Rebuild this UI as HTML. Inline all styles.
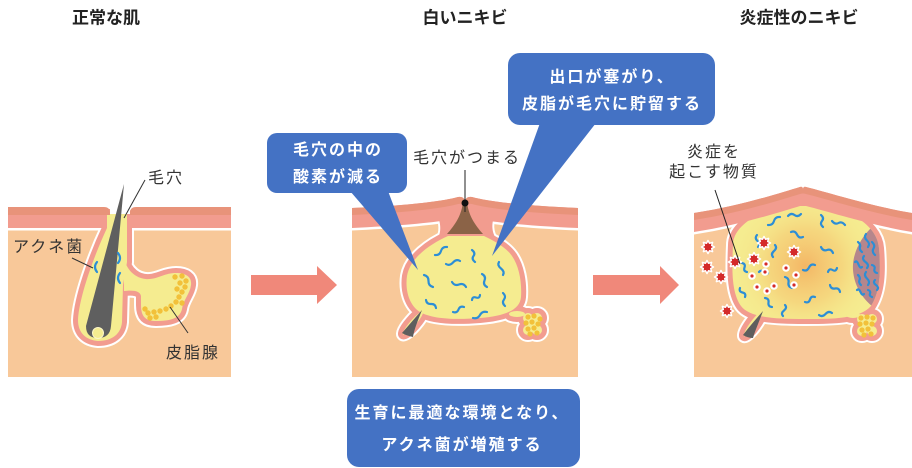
<!DOCTYPE html>
<html><head><meta charset="utf-8">
<style>
html,body{margin:0;padding:0;background:#fff;}
svg{display:block;}
text{font-family:"Liberation Sans","Noto Sans CJK JP",sans-serif;}
</style></head>
<body>
<svg width="912" height="468" viewBox="0 0 912 468" xmlns="http://www.w3.org/2000/svg">
<defs>
 <g id="s1">
  <path d="M 107 214 L 127 214 L 127 262 L 123 285 L 122 322 C 121 334 112 341 98 341 C 86 340 78 333 78 320 C 79 298 93 258 107 228 Z"/>
  <path d="M 124 258 C 127 272 138 280 150 279 C 160 278 165 273 176 273 C 186 273 192 277 191 285 C 190 294 183 300 182 309 C 180 319 169 321 156 321 C 145 321 141 316 141 305 L 141 296 C 140 291 134 290 124 291 Z"/>
 </g>
 <g id="s2">
  <path d="M 448 236 L 484 236 C 492 240 505 246 512 256 C 519 266 522 282 521 297 C 520 310 505 316 480 318 C 455 320 432 319 420 312 C 409 305 405 290 407 276 C 410 258 430 244 448 236 Z"/>
  <ellipse cx="413" cy="323" rx="15" ry="3" transform="rotate(-49 413 323)"/>
  <ellipse cx="517" cy="314" rx="8" ry="3"/>
  <circle cx="528" cy="318" r="5"/>
  <circle cx="537" cy="318" r="5"/>
  <circle cx="528" cy="330" r="5"/>
  <circle cx="537" cy="330" r="5"/>
  <circle cx="532" cy="324" r="6"/>
 </g>
 <path id="b3" d="M 733 245 C 733 222 770 205 805 203 C 842 205 877 222 879 248 C 881 272 880 292 871 306 C 860 319 832 319 805 319 C 776 319 750 318 741 306 C 731 292 732 268 733 245 Z"/>
 <g id="s3">
  <use href="#b3"/>
  <ellipse cx="753" cy="324" rx="15" ry="3" transform="rotate(-54 753 324)"/>
  <ellipse cx="853" cy="315" rx="7" ry="3"/>
  <circle cx="862" cy="319" r="5"/>
  <circle cx="872" cy="319" r="5"/>
  <circle cx="862" cy="331" r="5"/>
  <circle cx="872" cy="331" r="5"/>
  <circle cx="867" cy="325" r="6"/>
 </g>
 <clipPath id="c3"><use href="#b3"/></clipPath>
 <radialGradient id="rg" gradientUnits="userSpaceOnUse" cx="805" cy="266" r="75">
  <stop offset="0" stop-color="#F4B060" stop-opacity="0.9"/>
  <stop offset="0.5" stop-color="#F5C670" stop-opacity="0.55"/>
  <stop offset="1" stop-color="#F5EC90" stop-opacity="0"/>
 </radialGradient>
 <polygon id="star" fill="#D42A2A" stroke="#fff" stroke-width="1.5" stroke-linejoin="round" points="6.5,0 3.7,1.53 4.6,4.6 1.53,3.7 0,6.5 -1.53,3.7 -4.6,4.6 -3.7,1.53 -6.5,0 -3.7,-1.53 -4.6,-4.6 -1.53,-3.7 0,-6.5 1.53,-3.7 4.6,-4.6 3.7,-1.53"/>
</defs>

<!-- Titles -->
<text x="106" y="23.5" font-size="17" font-weight="bold" fill="#222" text-anchor="middle">正常な肌</text>
<text x="465" y="23.5" font-size="17" font-weight="bold" fill="#222" text-anchor="middle">白いニキビ</text>
<text x="799" y="23.5" font-size="17" font-weight="bold" fill="#222" text-anchor="middle">炎症性のニキビ</text>

<!-- ============ PANEL 1 ============ -->
<rect x="8" y="214" width="223" height="163" fill="#F8C899"/>
<use href="#s1" fill="none" stroke="#fff" stroke-width="14" stroke-linejoin="round"/>
<rect x="8" y="214" width="223" height="16.5" fill="#fff"/>
<rect x="8" y="214" width="223" height="14" fill="#F29C8F"/>
<use href="#s1" fill="none" stroke="#F29C8F" stroke-width="10" stroke-linejoin="round"/>
<use href="#s1" fill="#F5EC90"/>
<rect x="110" y="195" width="20" height="19" fill="#fff"/>
<path d="M 8 207 L 104 207 Q 110 207 110 213 L 110 215 L 8 215 Z" fill="#E8937A"/>
<path d="M 130 215 L 130 213 Q 130 207 136 207 L 231 207 L 231 215 Z" fill="#E8937A"/>
<!-- hair -->
<path d="M 124 184 L 111 326 Q 110 338 98 338 Q 86 338 86 326 Z" fill="#5F5F5F"/>
<circle cx="98" cy="333" r="5.5" fill="#F5EC90" stroke="#FBF6C8" stroke-width="1"/>
<!-- bacteria -->
<g fill="none" stroke="#2C8ED6" stroke-width="2.2" stroke-linecap="round">
 <path d="M 97 262 q -4 5 0 10"/>
 <path d="M 118 253 q 4 5 0 10"/>
 <path d="M 120 273 q -4 5 0 10"/>
</g>
<!-- gland dots -->
<g fill="#F2C13A">
 <circle cx="175" cy="277" r="2.7"/><circle cx="182" cy="276" r="2.7"/><circle cx="186" cy="281" r="2.7"/>
 <circle cx="180" cy="283" r="2.7"/><circle cx="185" cy="287" r="2.7"/><circle cx="177" cy="289" r="2.7"/>
 <circle cx="182" cy="292" r="2.7"/><circle cx="179" cy="297" r="2.7"/><circle cx="176" cy="302" r="2.7"/>
 <circle cx="182" cy="303" r="2.7"/><circle cx="171" cy="306" r="2.7"/><circle cx="166" cy="309" r="2.7"/>
 <circle cx="160" cy="311" r="2.7"/><circle cx="154" cy="312" r="2.7"/><circle cx="148" cy="313" r="2.7"/>
 <circle cx="156" cy="317" r="2.7"/><circle cx="150" cy="318" r="2.7"/><circle cx="145" cy="309" r="2.7"/>
</g>
<!-- leader lines -->
<g stroke="#333" stroke-width="1" fill="none">
 <line x1="145" y1="180" x2="124" y2="218"/>
 <line x1="72" y1="258" x2="93" y2="268"/>
 <line x1="170" y1="307" x2="188" y2="333"/>
</g>
<text x="148" y="183" font-size="16" letter-spacing="2" fill="#333">毛穴</text>
<text x="13" y="252" font-size="16" letter-spacing="2" fill="#333">アクネ菌</text>
<text x="166" y="358" font-size="16" letter-spacing="2" fill="#333">皮脂腺</text>

<!-- Arrow 1 -->
<polygon points="251,275 317,275 317,266 337,285 317,304 317,295 251,295" fill="#F0887A"/>

<!-- ============ PANEL 2 ============ -->
<rect x="352" y="215" width="226" height="162" fill="#F8C899"/>
<use href="#s2" fill="none" stroke="#fff" stroke-width="14" stroke-linejoin="round"/>
<path d="M 436 212 L 496 212 C 491 222 491 232 497 240 L 437 240 C 442 232 441 222 436 212 Z" fill="none" stroke="#fff" stroke-width="4"/>
<path d="M 352 208 C 400 206 440 202 458 197 Q 465 196 465 203 Q 465 196 472 197 C 490 202 530 206 578 208 L 578 230.5 C 530 228.5 490 224.5 470 220.5 L 460 220.5 C 440 224.5 400 228.5 352 230.5 Z" fill="#fff"/>
<use href="#s2" fill="none" stroke="#F29C8F" stroke-width="10" stroke-linejoin="round"/>
<path d="M 436 212 L 496 212 C 491 222 491 232 497 240 L 437 240 C 442 232 441 222 436 212 Z" fill="#F29C8F"/>
<use href="#s2" fill="#F5EC90"/>
<path d="M 352 208 C 400 206 440 202 458 197 Q 465 196 465 203 Q 465 196 472 197 C 490 202 530 206 578 208 L 578 228 C 530 226 490 222 470 218 L 460 218 C 440 222 400 226 352 228 Z" fill="#F29C8F"/>
<path d="M 352 208 C 400 206 440 202 458 197 Q 465 196 465 203 Q 465 196 472 197 C 490 202 530 206 578 208 L 578 215 C 530 213 490 209 472 204 Q 465 203 458 204 C 440 209 400 213 352 215 Z" fill="#E8937A"/>
<!-- plug -->
<path d="M 463 201 L 467 201 C 468 215 475 225 483 234 L 447 234 C 455 225 462 215 463 201 Z" fill="#8B6347"/>
<line x1="465" y1="170" x2="465" y2="212" stroke="#222" stroke-width="1"/>
<circle cx="465" cy="203" r="3.5" fill="#111"/>
<!-- squiggles -->
<g fill="none" stroke="#2C8ED6" stroke-width="2.2" stroke-linecap="round">
 <path d="M 435 255 q 4.7 0.5 6 -4 t 6 -4"/>
 <path d="M 446 264 q 3.5 2.25 7 -1.5 t 7 -1.5"/>
 <path d="M 472 250 q 3.75 3 1.5 6 t 1.5 6"/>
 <path d="M 499 262 q -2 3.25 2 6.5 t 2 6.5"/>
 <path d="M 424 275 q 4.65 1.2 4.5 6 t 4.5 6"/>
 <path d="M 452 282 q 2.5 4.25 7 2.5 t 7 2.5"/>
 <path d="M 482 274 q 4.25 2.25 2.5 6.5 t 2.5 6.5"/>
 <path d="M 426 300 q 0.6 4.3 5 4 t 5 4"/>
 <path d="M 453 312 q 3.95 1.45 5.5 -2.5 t 5.5 -2.5"/>
 <path d="M 472 300 q 0.4 -3.75 4 -2.5 t 4 -2.5"/>
 <path d="M 503 293 q 3.5 3.25 1 6.5 t 1 6.5"/>
 <path d="M 473 318 q 4.7 1.3 7 -3 t 7 -3"/>
</g>
<path d="M 422 310 C 418 320 414 330 413 337 C 409 336 405 335 402 333 C 408 326 415 318 422 310 Z" fill="#5E5E5E"/>
<g fill="#F2C13A">
 <circle cx="528" cy="317" r="2.6"/><circle cx="534" cy="316" r="2.6"/><circle cx="540" cy="319" r="2.6"/>
 <circle cx="526" cy="323" r="2.6"/><circle cx="532" cy="322" r="2.6"/><circle cx="538" cy="324" r="2.6"/>
 <circle cx="528" cy="329" r="2.6"/><circle cx="534" cy="328" r="2.6"/><circle cx="530" cy="334" r="2.6"/><circle cx="537" cy="333" r="2.6"/>
</g>
<text x="467" y="163" font-size="16" letter-spacing="2" fill="#333" text-anchor="middle">毛穴がつまる</text>

<!-- Arrow 2 -->
<polygon points="593,275 660,275 660,266 679,285 660,304 660,295 593,295" fill="#F0887A"/>

<!-- ============ PANEL 3 ============ -->
<rect x="694" y="215" width="218" height="162" fill="#F8C899"/>
<use href="#s3" fill="none" stroke="#fff" stroke-width="14" stroke-linejoin="round"/>
<path d="M 694 213 C 740 206 780 193 800 187 Q 803 186 803 190 Q 803 186 806 187 C 830 193 870 206 912 213 L 912 234.5 C 870 227.5 830 214.5 806 208.5 L 800 208.5 C 780 214.5 740 227.5 694 234.5 Z" fill="#fff"/>
<use href="#s3" fill="none" stroke="#F29C8F" stroke-width="10" stroke-linejoin="round"/>
<use href="#s3" fill="#F5EC90"/>
<use href="#b3" fill="url(#rg)"/>
<g clip-path="url(#c3)">
 <path d="M 873 226 C 858 240 852 257 853 270 C 854 285 862 298 872 306 C 886 298 888 280 887 265 C 886 250 882 236 873 226 Z" fill="#B5868C"/>
</g>
<path d="M 694 213 C 740 206 780 193 800 187 Q 803 186 803 190 Q 803 186 806 187 C 830 193 870 206 912 213 L 912 232 C 870 225 830 212 806 206 L 800 206 C 780 212 740 225 694 232 Z" fill="#F29C8F"/>
<path d="M 694 213 C 740 206 780 193 800 187 Q 803 186 803 190 Q 803 186 806 187 C 830 193 870 206 912 213 L 912 220 C 870 213 830 200 806 194 Q 803 193 800 194 C 780 200 740 213 694 220 Z" fill="#E8937A"/>
<!-- squiggles -->
<g fill="none" stroke="#2C8ED6" stroke-width="2.2" stroke-linecap="round">
 <path d="M 768 225 q 4.7 0.5 6 -4 t 6 -4"/>
 <path d="M 788 216 q 3.25 -3.5 6.5 -1 t 6.5 -1"/>
 <path d="M 821 215 q 3.5 3 1 6 t 1 6"/>
 <path d="M 832 221 q 3.25 4 6.5 2 t 6.5 2"/>
 <path d="M 757 235 q -2.75 3 0.5 6 t 0.5 6"/>
 <path d="M 791 232 q 4 -1.75 6 2.5 t 6 2.5"/>
 <path d="M 821 247 q 2 4.5 6 3 t 6 3"/>
 <path d="M 775 245 q 2.5 3 -1 6 t -1 6"/>
 <path d="M 759 272 q 2.25 -2.75 4.5 0.5 t 4.5 0.5"/>
 <path d="M 803 270 q 4 1.75 6 -2.5 t 6 -2.5"/>
 <path d="M 828 272 q 1.25 -4 4.5 -2 t 4.5 -2"/>
 <path d="M 785 277 q 4.25 1.25 3.5 5.5 t 3.5 5.5"/>
 <path d="M 740 288 q -1.35 3.65 2.5 4.5 t 2.5 4.5"/>
 <path d="M 765 298 q 4.15 0.45 3.5 4.5 t 3.5 4.5"/>
 <path d="M 785 305 q 2.5 2.75 -1 5.5 t -1 5.5"/>
 <path d="M 805 302 q 3.8 1.45 5 -2.5 t 5 -2.5"/>
 <path d="M 830 285 q 0.8 4.25 5 3.5 t 5 3.5"/>
 <path d="M 819 315 q 3.25 2.5 6.5 -1 t 6.5 -1"/>
 <path d="M 742 263 q 3.85 0.85 2.5 4.5 t 2.5 4.5"/>
 <path d="M 858 242 q 3 2.5 2 5 t 2 5"/>
 <path d="M 866 234 q -2.5 3.25 1 6.5 t 1 6.5"/>
 <path d="M 872 242 q 3.5 3.25 1.5 6.5 t 1.5 6.5"/>
 <path d="M 855 262 q 1.75 -2 3.5 2.5 t 3.5 2.5"/>
 <path d="M 864 256 q -2.5 3 1.5 6 t 1.5 6"/>
 <path d="M 872 265 q 3.5 1 2.5 4 t 2.5 4"/>
 <path d="M 858 275 q 2.75 2.5 1.5 5 t 1.5 5"/>
 <path d="M 866 272 q -2.5 3.25 1 6.5 t 1 6.5"/>
 <path d="M 857 290 q 1.75 -2 3.5 2 t 3.5 2"/>
 <path d="M 868 290 q 3 1 2 3.5 t 2 3.5"/>
 <path d="M 875 280 q -2.5 2.5 1 5 t 1 5"/>
</g>
<!-- stars -->
<use href="#star" transform="translate(708,247)"/>
<use href="#star" transform="translate(707,267)"/>
<use href="#star" transform="translate(721,277)"/>
<use href="#star" transform="translate(727,311)"/>
<use href="#star" transform="translate(735,262)"/>
<use href="#star" transform="translate(764,243)"/>
<use href="#star" transform="translate(754,259)"/>
<use href="#star" transform="translate(794,252)"/>
<!-- small dots -->
<g>
 <g fill="#fff"><circle cx="766" cy="264" r="3.8"/><circle cx="765" cy="272" r="3.8"/><circle cx="752" cy="276" r="3.8"/><circle cx="786" cy="268" r="3.8"/><circle cx="796" cy="275" r="3.8"/><circle cx="794" cy="285" r="3.8"/><circle cx="774" cy="286" r="3.8"/><circle cx="767" cy="291" r="3.8"/><circle cx="757" cy="287" r="3.8"/></g>
 <g fill="#D42A2A"><circle cx="766" cy="264" r="1.6"/><circle cx="765" cy="272" r="1.6"/><circle cx="752" cy="276" r="1.6"/><circle cx="786" cy="268" r="1.6"/><circle cx="796" cy="275" r="1.6"/><circle cx="794" cy="285" r="1.6"/><circle cx="774" cy="286" r="1.6"/><circle cx="767" cy="291" r="1.6"/><circle cx="757" cy="287" r="1.6"/></g>
</g>
<path d="M 763 311 C 759 322 755 331 753 338 C 750 338 746 337 743 335 C 749 327 756 319 763 311 Z" fill="#5E5E5E"/>
<g fill="#F2C13A">
 <circle cx="861" cy="318" r="2.6"/><circle cx="867" cy="317" r="2.6"/><circle cx="873" cy="318" r="2.6"/>
 <circle cx="860" cy="324" r="2.6"/><circle cx="866" cy="323" r="2.6"/><circle cx="872" cy="324" r="2.6"/>
 <circle cx="862" cy="330" r="2.6"/><circle cx="868" cy="329" r="2.6"/><circle cx="864" cy="335" r="2.6"/><circle cx="871" cy="334" r="2.6"/>
</g>
<line x1="715" y1="190" x2="740" y2="264" stroke="#222" stroke-width="1"/>
<text x="714" y="157" font-size="16" letter-spacing="2" fill="#333" text-anchor="middle">炎症を</text>
<text x="714" y="177" font-size="16" letter-spacing="2" fill="#333" text-anchor="middle">起こす物質</text>

<!-- ============ CALLOUTS ============ -->
<g fill="#4472C4">
 <rect x="267" y="133" width="140" height="60" rx="10"/>
 <polygon points="350,191 388,191 418,270"/>
 <rect x="508" y="53" width="207" height="72" rx="12"/>
 <polygon points="540,123 596,123 492,256"/>
 <rect x="347" y="389" width="233" height="78" rx="12"/>
</g>
<g fill="#fff" font-size="16" font-weight="bold" letter-spacing="2" text-anchor="middle">
 <text x="338" y="155">毛穴の中の</text>
 <text x="338" y="182">酸素が減る</text>
 <text x="612" y="82">出口が塞がり、</text>
 <text x="612" y="109">皮脂が毛穴に貯留する</text>
 <text x="462" y="418">生育に最適な環境となり、</text>
 <text x="462" y="450">アクネ菌が増殖する</text>
</g>
</svg>
</body></html>
